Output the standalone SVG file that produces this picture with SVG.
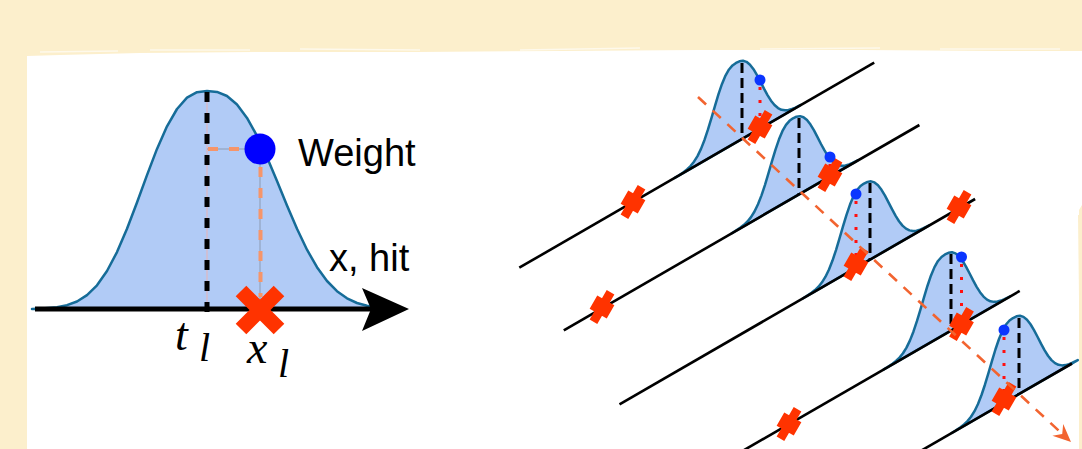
<svg xmlns="http://www.w3.org/2000/svg" xmlns:xlink="http://www.w3.org/1999/xlink" width="1082" height="449" viewBox="0 0 1082 449">
<style>
.rail{stroke:#000;stroke-width:2.6;fill:none}
.peak{stroke:#000;stroke-width:3;stroke-dasharray:10 5;fill:none}
.hit{stroke:#ff1010;stroke-width:3;stroke-dasharray:3 10;fill:none}
.dot{fill:#0a35ff}
.lbl{font-family:"Liberation Sans",Arial,sans-serif;font-size:38px;fill:#000}
.math{font-family:"Liberation Serif","Times New Roman",serif;font-style:italic;fill:#000}
.guide{stroke:#8c9bb3;stroke-width:1;fill:none}
.odash{stroke:#f6956a;stroke-width:4;stroke-dasharray:10 11;fill:none}
</style>
<defs>
<path id="bellShape" vector-effect="non-scaling-stroke" fill="#b1cbf6" stroke="#166c98" stroke-width="2.5" stroke-linejoin="round" d="M-175,0 L-165,-0.5 L-150,-1.8 L-140,-3.8 L-130,-7.5 L-120,-13.9 L-110,-23.7 L-100,-38 L-90,-56.9 L-80,-80.2 L-70,-106.5 L-60,-133.9 L-50,-160.1 L-40,-182.7 L-30,-200 L-20,-211.3 L-10,-216.8 L0,-218 L10,-217.1 L20,-213 L30,-204.5 L40,-191.1 L50,-173.2 L60,-151.7 L70,-127.9 L80,-103.5 L90,-80.2 L100,-59.3 L110,-41.8 L120,-28 L130,-17.8 L140,-10.7 L150,-6 L160,-3.2 L170,-1.6 L185,-0.4 Z"/>
<path id="xr" d="M-19,-19L19,19M-19,19L19,-19" stroke="#ff3300" stroke-width="24" fill="none"/>
</defs>

<g id="background">
<rect width="1082" height="449" fill="#fcefcc"/>
<path d="M27,449 L27,56 L60,55 L140,53 L260,52 L420,52 L560,51 L700,50 L860,50 L1000,51 L1082,51 L1082,205 L1079,210 L1079,449 Z" fill="#fff"/>
<path d="M40,52 L118,51 M150,50 L250,50 M300,49 L420,50 M520,50 L640,48 M760,49 L880,48 M940,49 L1060,49" stroke="#fff" stroke-opacity="0.6" stroke-width="1.5"/>
<path d="M1079,215 L1081,380" stroke="#fcefcc" stroke-width="2"/>
</g>

<g id="left-plot">
<use xlink:href="#bellShape" transform="translate(207,309)"/>
<line x1="207" y1="92" x2="207" y2="309" stroke="#e9b3b3" stroke-width="1"/>
<line x1="207" y1="92" x2="207" y2="312" stroke="#000" stroke-width="5" stroke-dasharray="10 11"/>
<path class="guide" d="M207,149 L260,149 L260,300"/>
<line class="odash" x1="208" y1="149" x2="245" y2="149"/>
<line class="odash" x1="260.5" y1="167" x2="260.5" y2="297"/>
</g>

<g id="connectors">
<g id="x-axis">
<line x1="35" y1="309" x2="372" y2="309" stroke="#000" stroke-width="5"/>
<path d="M409,309 L362,288 L371,309 L362,331 Z" fill="#000"/>
</g>
</g>

<g id="left-hit">
<path d="M241,291 L279,329 M241,329 L279,291" stroke="#ff3300" stroke-width="15"/>
<circle cx="260" cy="149" r="15.5" fill="#0000ff"/>
</g>

<g id="labels">
<text class="lbl" x="298" y="166">Weight</text>
<text class="lbl" x="329" y="271">x, hit</text>
<text class="math" x="175" y="350" font-size="46">t</text>
<text class="math" x="199" y="361" font-size="40">l</text>
<text class="math" x="247" y="363" font-size="46">x</text>
<text class="math" x="278" y="377" font-size="40">l</text>
</g>

<g id="bell-1">
<use xlink:href="#bellShape" transform="matrix(0.35,-0.2021,0,0.365,736,142.53)"/>
</g>
<g id="bell-2">
<use xlink:href="#bellShape" transform="matrix(0.35,-0.2021,0,0.365,793,197.92)"/>
</g>
<g id="bell-3">
<use xlink:href="#bellShape" transform="matrix(0.35,-0.2021,0,0.365,864,263.13)"/>
</g>
<g id="bell-4">
<use xlink:href="#bellShape" transform="matrix(0.35,-0.2021,0,0.365,945,334.06)"/>
</g>
<g id="bell-5">
<use xlink:href="#bellShape" transform="matrix(0.35,-0.2021,0,0.365,1013,397.59)"/>
</g>

<g id="rails">
<line class="rail" x1="519.3" y1="267.7" x2="874.2" y2="62.7"/>
<line class="rail" x1="563.8" y1="330.3" x2="919.4" y2="125"/>
<line class="rail" x1="619.5" y1="404.3" x2="975.1" y2="199"/>
<line class="rail" x1="740" y1="452.4" x2="1019.7" y2="290.9"/>
<line class="rail" x1="918" y1="452.5" x2="1072" y2="363.5"/>
</g>

<g id="peaks">
<line class="peak" x1="742" y1="63" x2="742" y2="139.1"/>
<line class="peak" x1="799" y1="118" x2="799" y2="194.5"/>
<line class="peak" x1="870" y1="183" x2="870" y2="259.7"/>
<line class="peak" x1="951" y1="254" x2="951" y2="330.6"/>
<line class="peak" x1="1019" y1="318" x2="1019" y2="394.1"/>
</g>

<g id="hits">
<line class="hit" x1="760" y1="87" x2="760" y2="122"/>
<line class="hit" x1="830" y1="164" x2="830" y2="171"/>
<line class="hit" x1="856" y1="201" x2="856" y2="258"/>
<line class="hit" x1="961.5" y1="264" x2="961.5" y2="318"/>
<line class="hit" x1="1004" y1="337" x2="1004" y2="394"/>
<use xlink:href="#xr" transform="matrix(0.45,-0.26,0,0.52,633,202)"/>
<use xlink:href="#xr" transform="matrix(0.45,-0.26,0,0.52,760,127)"/>
<use xlink:href="#xr" transform="matrix(0.45,-0.26,0,0.52,602,307)"/>
<use xlink:href="#xr" transform="matrix(0.45,-0.26,0,0.52,830,175)"/>
<use xlink:href="#xr" transform="matrix(0.45,-0.26,0,0.52,959,207)"/>
<use xlink:href="#xr" transform="matrix(0.45,-0.26,0,0.52,856,264)"/>
<use xlink:href="#xr" transform="matrix(0.45,-0.26,0,0.52,961.5,324)"/>
<use xlink:href="#xr" transform="matrix(0.45,-0.26,0,0.52,789,424)"/>
<use xlink:href="#xr" transform="matrix(0.45,-0.26,0,0.52,1004,399)"/>
<circle class="dot" cx="760" cy="80" r="5.5"/>
<circle class="dot" cx="830" cy="157" r="5.5"/>
<circle class="dot" cx="856" cy="194" r="5.5"/>
<circle class="dot" cx="961.5" cy="257" r="5.5"/>
<circle class="dot" cx="1004" cy="330" r="5.5"/>
</g>

<g id="track-arrow">
<line x1="698" y1="97" x2="1060" y2="431.8" stroke="#f26430" stroke-width="2.6" stroke-dasharray="11 9"/>
<path d="M1071,442 L1052.4,435.7 L1062.2,433.9 L1063.2,423.9 Z" fill="#f26430"/>
</g>
</svg>
